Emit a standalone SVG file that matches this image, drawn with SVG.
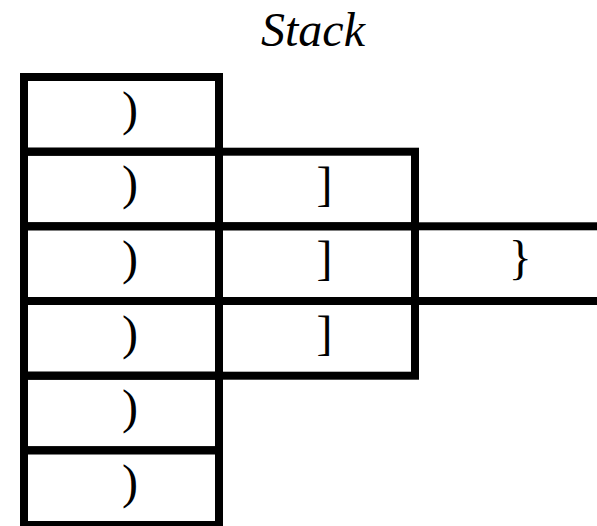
<svg xmlns="http://www.w3.org/2000/svg" width="597" height="526" viewBox="0 0 597 526">
<style>
.cell{fill:none;stroke:#000;stroke-width:8}
.t{font-family:"Liberation Serif","Times New Roman",serif;font-size:48px;fill:#000;text-anchor:middle}
</style>
<rect width="597" height="526" fill="#fff"/>
<text class="t" x="313" y="46" font-style="italic">Stack</text>
<g id="connectors"></g>
<g id="right-1"><rect class="cell" x="415" y="226.3" width="200" height="74.7"/><text class="t" x="520.3" y="274">}</text></g>
<g id="mid-1"><rect class="cell" x="219" y="151.7" width="196" height="74.6"/><text class="t" x="324.4" y="199.5">]</text></g>
<g id="mid-2"><rect class="cell" x="219" y="226.3" width="196" height="74.7"/><text class="t" x="324.4" y="274">]</text></g>
<g id="mid-3"><rect class="cell" x="219" y="301" width="196" height="74.7"/><text class="t" x="324.4" y="348.8">]</text></g>
<g id="left-1"><rect class="cell" x="24" y="77" width="195" height="74.7"/><text class="t" x="130" y="124.5">)</text></g>
<g id="left-2"><rect class="cell" x="24" y="151.7" width="195" height="74.6"/><text class="t" x="130" y="199.2">)</text></g>
<g id="left-3"><rect class="cell" x="24" y="226.3" width="195" height="74.7"/><text class="t" x="130" y="273.8">)</text></g>
<g id="left-4"><rect class="cell" x="24" y="301" width="195" height="74.7"/><text class="t" x="130" y="348.5">)</text></g>
<g id="left-5"><rect class="cell" x="24" y="375.7" width="195" height="74.6"/><text class="t" x="130" y="423.2">)</text></g>
<g id="left-6"><rect class="cell" x="24" y="450.3" width="195" height="74.7"/><text class="t" x="130" y="497.8">)</text></g>
</svg>
